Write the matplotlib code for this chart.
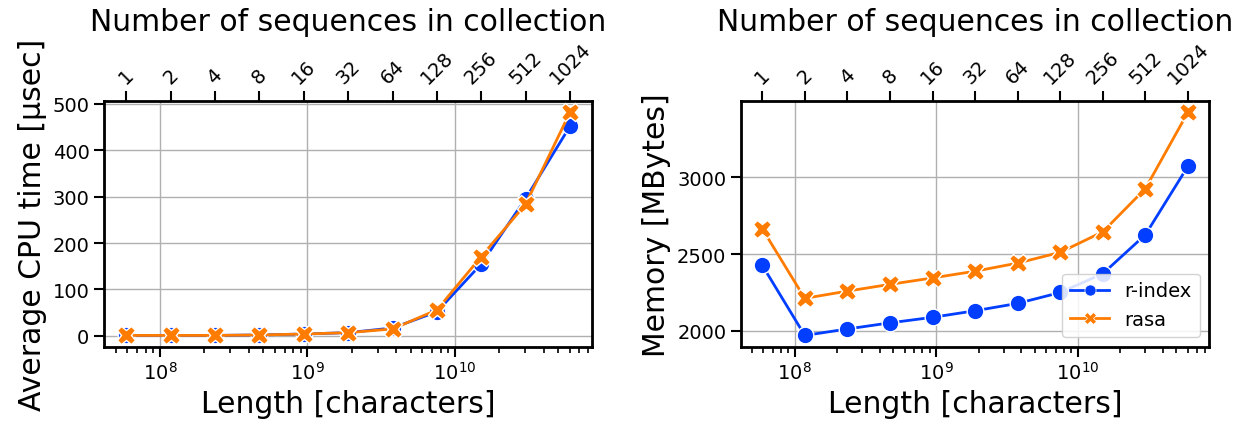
import matplotlib
matplotlib.use("Agg")
import matplotlib.pyplot as plt
from matplotlib.lines import Line2D

# length of the collection in characters, one entry per collection size
lengths = [5.9e7, 1.18e8, 2.36e8, 4.72e8, 9.44e8, 1.89e9, 3.78e9, 7.55e9, 1.51e10, 3.02e10, 6.04e10]
n_sequences = ["1", "2", "4", "8", "16", "32", "64", "128", "256", "512", "1024"]

cpu_rindex = [1, 1, 1, 2, 4, 7, 17, 52, 155, 296, 452]
cpu_rasa = [1, 1, 1, 2, 4, 7, 15, 56, 171, 284, 482]

mem_rindex = [2427, 1969, 2011, 2051, 2087, 2130, 2178, 2249, 2372, 2626, 3073]
mem_rasa = [2665, 2211, 2258, 2302, 2344, 2388, 2441, 2511, 2645, 2927, 3425]

blue = "#023eff"
orange = "#ff7c00"

plt.rcParams["font.family"] = "DejaVu Sans"

fig = plt.figure(figsize=(12.39, 4.27), dpi=100)
ax1 = fig.add_axes([0.084, 0.186, 0.394, 0.575])
ax2 = fig.add_axes([0.598, 0.186, 0.378, 0.575])


def draw_panel(ax, y_r, y_a, ylabel):
    ax.plot(lengths, y_r, color=blue, lw=2, marker="o", ms=12,
            mec="white", mew=1, label="r-index", zorder=3)
    ax.plot(lengths, y_a, color=orange, lw=2, marker="X", ms=13,
            mec="white", mew=1, label="rasa", zorder=4)
    ax.set_xscale("log")
    ax.grid(True, which="major", color="#b0b0b0", lw=1)
    ax.set_axisbelow(True)
    ax.tick_params(which="major", length=7, width=1.5, labelsize=14)
    ax.tick_params(which="minor", length=4, width=1.2)
    for s in ax.spines.values():
        s.set_linewidth(2)
    ax.set_xlabel("Length [characters]", fontsize=21.5)
    ax.set_ylabel(ylabel, fontsize=21.5)

    top = ax.twiny()
    top.set_xscale("log")
    top.set_xlim(ax.get_xlim())
    top.set_xticks(lengths)
    top.set_xticklabels(n_sequences, rotation=45, fontsize=14)
    top.minorticks_off()
    top.tick_params(length=7, width=1.5)
    top.set_xlabel("Number of sequences in collection", fontsize=21.5, labelpad=6)
    return top


draw_panel(ax1, cpu_rindex, cpu_rasa, "Average CPU time [µsec]")
ax1.set_yticks([0, 100, 200, 300, 400, 500])

draw_panel(ax2, mem_rindex, mem_rasa, "Memory [MBytes]")
ax2.set_yticks([2000, 2500, 3000])

handles = [Line2D([], [], color=blue, lw=2, marker="o", ms=8, mec="white", mew=0.5),
           Line2D([], [], color=orange, lw=2, marker="X", ms=8, mec="white", mew=0.5)]
ax2.legend(handles, ["r-index", "rasa"], loc="lower right", fontsize=14,
           framealpha=0.85)

fig.savefig("out.png", dpi=100)
